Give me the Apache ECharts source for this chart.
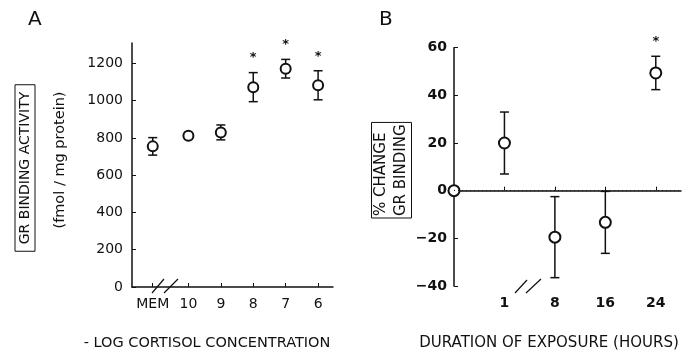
<!DOCTYPE html>
<html>
<head>
<meta charset="utf-8">
<script src="https://cdn.jsdelivr.net/npm/echarts@6/dist/echarts.min.js"></script>
<style>
  html, body { margin: 0; padding: 0; background: #fff; }
  #chart { width: 696px; height: 357px; }
</style>
</head>
<body>
<div id="chart"></div>
<script>
// Panel A: GR binding vs -log cortisol concentration
const doseLabels = ['MEM', '10', '9', '8', '7', '6'];
const doseX = [11.1, 10, 9, 8, 7, 6]; // -log conc (MEM = control, placed left of the break)
const bindMean = [755, 812, 830, 1073, 1172, 1083];
const bindErr = [47, 17, 40, 78, 50, 78];
const bindSig = [false, false, false, true, true, true];
const bindTicks = [0, 200, 400, 600, 800, 1000, 1200];

// Panel B: % change vs duration of exposure
const hourLabels = ['0', '1', '8', '16', '24'];
const hourIdx = [0, 1, 2, 3, 4];
const changeMean = [0, 20, -19.5, -13.3, 49.4];
const changeErr = [0, 13, 17, 13, 7];
const changeSig = [false, false, false, false, true];

const FONT = 'DejaVu Sans';
const INK = '#111';

const chart = echarts.init(document.getElementById('chart'), null, { renderer: 'canvas' });

function errRows(xs, mean, err, sig) {
  return xs.map((x, i) => [x, mean[i] - err[i], mean[i] + err[i], sig[i] ? 1 : 0]);
}

function renderErr(params, api) {
  const x = api.value(0);
  const pLo = api.coord([x, api.value(1)]);
  const pHi = api.coord([x, api.value(2)]);
  const w = 4.5;
  const st = { stroke: INK, lineWidth: 1.5 };
  const kids = [];
  if (Math.abs(pLo[1] - pHi[1]) > 1) {
    kids.push({ type: 'line', shape: { x1: pLo[0], y1: pLo[1], x2: pHi[0], y2: pHi[1] }, style: st });
    kids.push({ type: 'line', shape: { x1: pHi[0] - w, y1: pHi[1], x2: pHi[0] + w, y2: pHi[1] }, style: st });
    kids.push({ type: 'line', shape: { x1: pLo[0] - w, y1: pLo[1], x2: pLo[0] + w, y2: pLo[1] }, style: st });
  }
  if (api.value(3)) {
    kids.push({
      type: 'text',
      style: {
        text: '*', x: pHi[0], y: pHi[1] - 8, align: 'center', verticalAlign: 'bottom',
        font: 'bold 13px ' + FONT, fill: INK
      }
    });
  }
  return { type: 'group', children: kids };
}

const axisLine = { show: true, lineStyle: { color: INK, width: 1.5 } };

chart.setOption({
  backgroundColor: '#fff',
  animation: false,
  grid: [
    { left: 132, right: 363, top: 43, bottom: 70, outerBoundsMode: 'none' },
    { left: 454, right: 15, top: 47.7, bottom: 71, outerBoundsMode: 'none' }
  ],
  xAxis: [
    {
      gridIndex: 0, type: 'value', inverse: true, min: 5.54, max: 11.74,
      axisLine: axisLine,
      splitLine: { show: false },
      axisTick: { show: true, inside: true, length: 4, customValues: doseX, lineStyle: { color: INK } },
      axisLabel: {
        customValues: doseX, margin: 10, color: INK, fontFamily: FONT, fontSize: 14,
        formatter: (v) => doseLabels[doseX.indexOf(v)]
      }
    },
    {
      gridIndex: 1, type: 'value', min: 0, max: 4.5,
      axisLine: axisLine,
      splitLine: { show: false },
      axisTick: { show: true, inside: true, length: 4, customValues: hourIdx.slice(1), lineStyle: { color: INK } },
      axisLabel: {
        customValues: hourIdx.slice(1), margin: 10, color: INK, fontFamily: FONT, fontSize: 14, fontWeight: 'bold',
        formatter: (v) => hourLabels[hourIdx.indexOf(v)]
      }
    }
  ],
  yAxis: [
    {
      gridIndex: 0, type: 'value', min: 0, max: 1310,
      axisLine: axisLine,
      splitLine: { show: false },
      axisTick: { show: true, inside: true, length: 4, customValues: bindTicks, lineStyle: { color: INK } },
      axisLabel: {
        customValues: bindTicks, margin: 9, color: INK, fontFamily: FONT, fontSize: 14,
        formatter: (v) => String(v)
      }
    },
    {
      gridIndex: 1, type: 'value', min: -40, max: 60, interval: 20,
      axisLine: axisLine,
      splitLine: { show: false },
      axisTick: { show: true, inside: true, length: 4, lineStyle: { color: INK } },
      axisLabel: {
        margin: 7, color: INK, fontFamily: FONT, fontSize: 14, fontWeight: 'bold',
        formatter: (v) => (v < 0 ? '\u2212' + Math.abs(v) : String(v))
      }
    }
  ],
  series: [
    {
      type: 'custom', xAxisIndex: 0, yAxisIndex: 0, z: 2,
      data: errRows(doseX, bindMean, bindErr, bindSig),
      renderItem: renderErr
    },
    {
      type: 'scatter', xAxisIndex: 0, yAxisIndex: 0, z: 3,
      symbol: 'emptyCircle', symbolSize: 10,
      itemStyle: { color: INK, borderWidth: 1.5, opacity: 1 },
      data: doseX.map((x, i) => [x, bindMean[i]])
    },
    {
      type: 'custom', xAxisIndex: 1, yAxisIndex: 1, z: 2,
      data: errRows(hourIdx, changeMean, changeErr, changeSig),
      renderItem: renderErr
    },
    {
      type: 'scatter', xAxisIndex: 1, yAxisIndex: 1, z: 3,
      symbol: 'emptyCircle', symbolSize: 11,
      itemStyle: { color: INK, borderWidth: 1.5, opacity: 1 },
      data: hourIdx.map((x, i) => [x, changeMean[i]]),
      markLine: {
        silent: true, symbol: 'none', label: { show: false },
        lineStyle: { color: INK, width: 1, type: [1, 3] },
        data: [{ yAxis: 0 }]
      }
    }
  ],
  graphic: [
    // panel letters
    { type: 'text', left: 28, top: 10, style: { text: 'A', font: '20px ' + FONT, fill: INK } },
    { type: 'text', left: 379, top: 10, style: { text: 'B', font: '20px ' + FONT, fill: INK } },
    // y titles
    {
      type: 'text', x: 25, y: 168, rotation: Math.PI / 2,
      style: {
        text: 'GR BINDING ACTIVITY', align: 'center', verticalAlign: 'middle',
        font: '14px ' + FONT, fill: INK, borderColor: INK, borderWidth: 1, padding: [3, 7]
      }
    },
    {
      type: 'text', x: 60, y: 160, rotation: Math.PI / 2,
      style: { text: '(fmol / mg protein)', align: 'center', verticalAlign: 'middle', font: '14.5px ' + FONT, fill: INK }
    },
    {
      type: 'text', x: 391.5, y: 218, rotation: Math.PI / 2,
      style: {
        text: '% CHANGE\nGR BINDING', align: 'left', verticalAlign: 'middle', lineHeight: 20,
        font: '15px ' + FONT, fill: INK, borderColor: INK, borderWidth: 1, padding: [0, 2]
      }
    },
    // x titles
    {
      type: 'text', x: 207, y: 343,
      style: { text: '- LOG CORTISOL CONCENTRATION', align: 'center', verticalAlign: 'middle', font: '14.5px ' + FONT, fill: INK }
    },
    {
      type: 'text', x: 549, y: 343,
      style: { text: 'DURATION OF EXPOSURE (HOURS)', align: 'center', verticalAlign: 'middle', font: '15px ' + FONT, fill: INK }
    },
    // axis break marks
    { type: 'line', shape: { x1: 152, y1: 293, x2: 164, y2: 279 }, style: { stroke: INK, lineWidth: 1.2 } },
    { type: 'line', shape: { x1: 164, y1: 293, x2: 178, y2: 279 }, style: { stroke: INK, lineWidth: 1.2 } },
    { type: 'line', shape: { x1: 515, y1: 293, x2: 527, y2: 280 }, style: { stroke: INK, lineWidth: 1.2 } },
    { type: 'line', shape: { x1: 526, y1: 293, x2: 541, y2: 279 }, style: { stroke: INK, lineWidth: 1.2 } }
  ]
});
</script>
</body>
</html>
